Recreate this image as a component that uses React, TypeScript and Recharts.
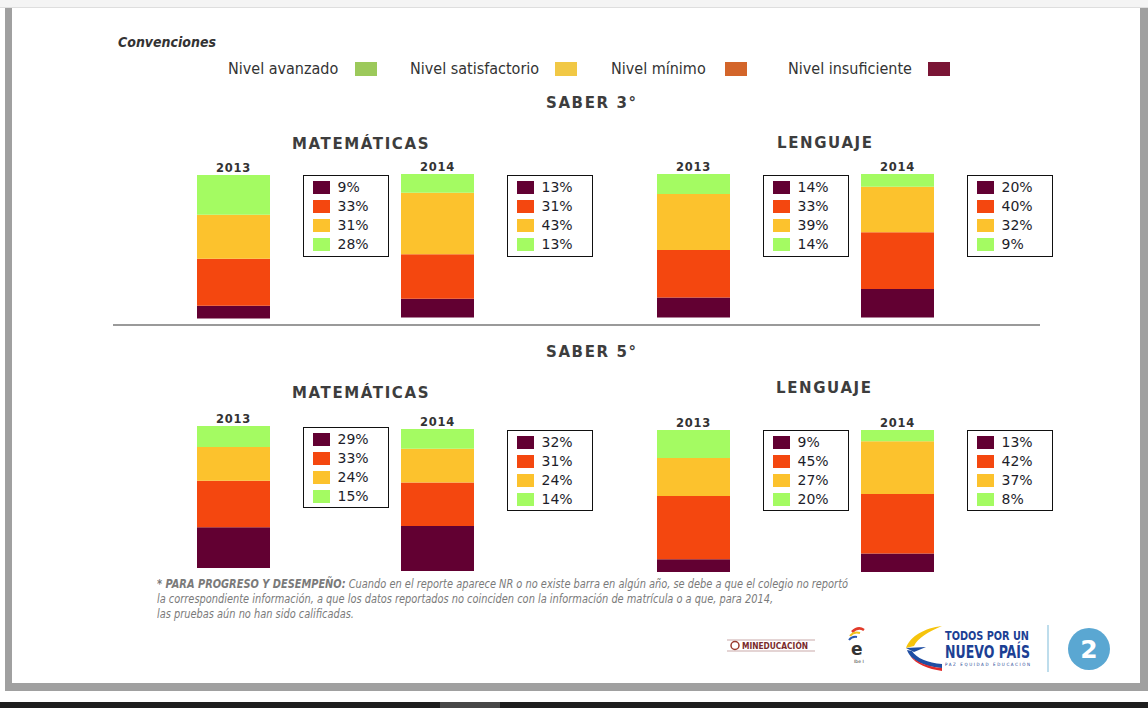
import React from "react";
import { Bar, BarChart, XAxis, YAxis } from "recharts";

// valores de cada barra, en el orden del recuadro: insuficiente, mínimo, satisfactorio, avanzado
const years = ["2013", "2014"];
const s3Mat = [
  [9, 33, 31, 28],
  [13, 31, 43, 13],
];
const s3Len = [
  [14, 33, 39, 14],
  [20, 40, 32, 9],
];
const s5Mat = [
  [29, 33, 24, 15],
  [32, 31, 24, 14],
];
const s5Len = [
  [9, 45, 27, 20],
  [13, 42, 37, 8],
];

const levelNames = ["Nivel avanzado", "Nivel satisfactorio", "Nivel mínimo", "Nivel insuficiente"];
const levelSwatches = ["#9cc95b", "#f1c845", "#d3652a", "#7a1535"];

// colores de las barras: insuficiente, mínimo, satisfactorio, avanzado
const keys = ["insuf", "minimo", "satis", "avanz"];
const barColors = ["#620032", "#f4470f", "#fcc22d", "#a4fb62"];

const FONT = "'DejaVu Sans', Verdana, sans-serif";
const NARROW = "'Liberation Sans Narrow', 'DejaVu Sans Condensed', 'Liberation Sans', sans-serif";
const AX = 22;

function toRow(year: string, v: number[]) {
  const r: Record<string, string | number> = { year };
  keys.forEach((k, i) => (r[k] = v[i]));
  return r;
}

function StackBar({ year, values, x, top, h }: { year: string; values: number[]; x: number; top: number; h: number }) {
  return (
    <div style={{ position: "absolute", left: x, top: top - AX }}>
      <BarChart
        width={73}
        height={h + AX}
        data={[toRow(year, values)]}
        margin={{ top: 0, right: 0, bottom: 0, left: 0 }}
        barCategoryGap={0}
      >
        <XAxis
          dataKey="year"
          orientation="top"
          height={AX}
          axisLine={false}
          tickLine={false}
          tickSize={0}
          tickMargin={3}
          interval={0}
          tick={{ fill: "#333", fontSize: 11.5, fontWeight: 700, fontFamily: FONT, letterSpacing: 0.8 }}
        />
        <YAxis hide domain={[0, "dataMax"]} />
        {keys.map((k, i) => (
          <Bar key={k} dataKey={k} stackId="s" fill={barColors[i]} isAnimationActive={false} />
        ))}
      </BarChart>
    </div>
  );
}

function ValueBox({ values, x, top, h }: { values: number[]; x: number; top: number; h: number }) {
  return (
    <div
      style={{
        position: "absolute",
        left: x,
        top,
        width: 86,
        height: h,
        boxSizing: "border-box",
        border: "1.5px solid #111",
        background: "#fff",
      }}
    >
      {values.map((v, i) => (
        <div key={i} style={{ position: "absolute", left: 8.5, top: 4.5 + i * 19.2, height: 13, display: "flex", alignItems: "center" }}>
          <span style={{ width: 17, height: 13, background: barColors[i], display: "inline-block" }} />
          <span style={{ marginLeft: 8, fontFamily: FONT, fontSize: 14, color: "#1d1d2a", lineHeight: "13px" }}>{v}%</span>
        </div>
      ))}
    </div>
  );
}

const barX = [197, 401, 657, 861];
const boxX = [303, 507, 763, 967];

function Row({ mat, len, tops, boxTops, h, boxH }: { mat: number[][]; len: number[][]; tops: number[]; boxTops: number[]; h: number; boxH: number }) {
  const all = [mat[0], mat[1], len[0], len[1]];
  return (
    <>
      {all.map((v, i) => (
        <React.Fragment key={i}>
          <StackBar year={years[i % 2]} values={v} x={barX[i]} top={tops[i]} h={h} />
          <ValueBox values={v} x={boxX[i]} top={boxTops[i]} h={boxH} />
        </React.Fragment>
      ))}
    </>
  );
}

const titleStyle: React.CSSProperties = {
  position: "absolute",
  fontFamily: FONT,
  fontWeight: 700,
  fontSize: 15,
  letterSpacing: 1.6,
  color: "#3d3d3d",
  whiteSpace: "nowrap",
  lineHeight: "18px",
};

function Logos() {
  return (
    <svg width={1148} height={708} style={{ position: "absolute", left: 0, top: 0 }}>
      {/* MINEDUCACIÓN */}
      <line x1={727} y1={640} x2={815} y2={640} stroke="#c9a9a9" strokeWidth={1} />
      <line x1={727} y1={651} x2={815} y2={651} stroke="#c9a9a9" strokeWidth={1} />
      <circle cx={735} cy={645.5} r={4} fill="none" stroke="#9a3b2e" strokeWidth={1.5} />
      <text x={742} y={648.5} fontFamily={NARROW} fontSize={8} fontWeight={700} fill="#7a2a2a" textLength={66} lengthAdjust="spacingAndGlyphs">MINEDUCACIÓN</text>
      {/* logo e */}
      <path d="M852 632 q6 -6 12 -2" stroke="#e23b2a" strokeWidth={2.5} fill="none" />
      <path d="M850 636 q4 -5 10 -3" stroke="#f2c21b" strokeWidth={2} fill="none" />
      <path d="M849 640 q3 -4 8 -3" stroke="#2a58b0" strokeWidth={2} fill="none" />
      <text x={851} y={655} fontFamily={FONT} fontSize={17} fontWeight={700} fill="#333">e</text>
      <text x={854} y={663} fontFamily={FONT} fontSize={4.5} fill="#333">Ibe I</text>
      {/* bandera */}
      <path d="M942 626 C925 628 910 636 906 648 L914 646 C918 638 928 632 942 626 Z" fill="#f6c40c" />
      <path d="M906 648 L926 647 L914 652 Z" fill="#1f4ea3" />
      <path d="M907 650 C910 660 925 667 942 668 L942 664 C928 663 916 658 912 651 Z" fill="#1f4ea3" />
      <path d="M910 656 C916 664 928 669 942 671 L942 668 C928 667 917 662 910 656 Z" fill="#e02a2a" />
      <text x={945} y={640} fontFamily={NARROW} fontSize={12} fontWeight={700} fill="#1c3f94" textLength={84} lengthAdjust="spacingAndGlyphs">TODOS POR UN</text>
      <text x={945} y={658} fontFamily={NARROW} fontSize={18} fontWeight={700} fill="#1c3f94" textLength={85} lengthAdjust="spacingAndGlyphs">NUEVO PAÍS</text>
      <text x={945} y={666} fontFamily={NARROW} fontSize={4.5} fill="#1c3f94" textLength={85} lengthAdjust="spacing">PAZ  EQUIDAD  EDUCACIÓN</text>
      <line x1={1048} y1={625} x2={1048} y2={672} stroke="#a9d2e6" strokeWidth={1.5} />
      <circle cx={1089} cy={649} r={21} fill="#5aa7d2" />
      <text x={1089} y={658} textAnchor="middle" fontFamily={FONT} fontSize={25} fontWeight={700} fill="#fff">2</text>
    </svg>
  );
}

export default function App() {
  return (
    <div style={{ position: "absolute", left: 0, top: 0, width: 1148, height: 708, background: "#fff", overflow: "hidden", fontFamily: FONT }}>
      {/* marco de la página */}
      <div style={{ position: "absolute", left: 0, top: 0, width: 1148, height: 7, background: "#f4f4f4", borderBottom: "1px solid #dedede" }} />
      <div style={{ position: "absolute", left: 5, top: 8, width: 7, height: 683, background: "#a0a0a0" }} />
      <div style={{ position: "absolute", left: 1140, top: 8, width: 8, height: 683, background: "#a0a0a0" }} />
      <div style={{ position: "absolute", left: 5, top: 683, width: 1143, height: 8, background: "#a0a0a0" }} />
      <div style={{ position: "absolute", left: 0, top: 702, width: 1148, height: 6, background: "#1e1e1e" }} />
      <div style={{ position: "absolute", left: 440, top: 702, width: 60, height: 6, background: "#474747" }} />

      {/* convenciones */}
      <div style={{ position: "absolute", left: 118, top: 34, fontFamily: NARROW, fontStyle: "italic", fontWeight: 700, fontSize: 14, color: "#333" }}>
        Convenciones
      </div>
      {levelNames.map((n, i) => {
        const lx = [228, 410, 611, 788][i];
        const sx = [355, 555, 725, 928][i];
        return (
          <React.Fragment key={n}>
            <div style={{ position: "absolute", left: lx, top: 60, fontFamily: NARROW, fontSize: 16, color: "#333", whiteSpace: "nowrap", lineHeight: "18px" }}>{n}</div>
            <div style={{ position: "absolute", left: sx, top: 62, width: 22, height: 14, background: levelSwatches[i] }} />
          </React.Fragment>
        );
      })}

      <div style={{ ...titleStyle, left: 546, top: 94 }}>SABER 3°</div>
      <div style={{ ...titleStyle, left: 292, top: 135 }}>MATEMÁTICAS</div>
      <div style={{ ...titleStyle, left: 777, top: 134 }}>LENGUAJE</div>

      <Row mat={s3Mat} len={s3Len} tops={[175, 174, 174, 174]} boxTops={[175, 175, 175, 175]} h={143.5} boxH={82} />

      <div style={{ position: "absolute", left: 113, top: 324, width: 927, height: 2, background: "#9a9a9a" }} />

      <div style={{ ...titleStyle, left: 546, top: 343 }}>SABER 5°</div>
      <div style={{ ...titleStyle, left: 292, top: 384 }}>MATEMÁTICAS</div>
      <div style={{ ...titleStyle, left: 776, top: 379 }}>LENGUAJE</div>

      <Row mat={s5Mat} len={s5Len} tops={[426, 429, 430, 430]} boxTops={[427, 430, 430, 430]} h={142} boxH={81} />

      {/* nota */}
      <div
        style={{
          position: "absolute",
          left: 157,
          top: 576,
          fontFamily: NARROW,
          fontStyle: "italic",
          fontSize: 13,
          lineHeight: "15px",
          color: "#7a7a7a",
          whiteSpace: "nowrap",
          transform: "scaleX(0.84)",
          transformOrigin: "0 0",
        }}
      >
        <div>
          <b>* PARA PROGRESO Y DESEMPEÑO:</b> Cuando en el reporte aparece NR o no existe barra en algún año, se debe a que el colegio no reportó
        </div>
        <div>la correspondiente información, a que los datos reportados no coinciden con la información de matrícula o a que, para 2014,</div>
        <div>las pruebas aún no han sido calificadas.</div>
      </div>

      <Logos />
    </div>
  );
}
